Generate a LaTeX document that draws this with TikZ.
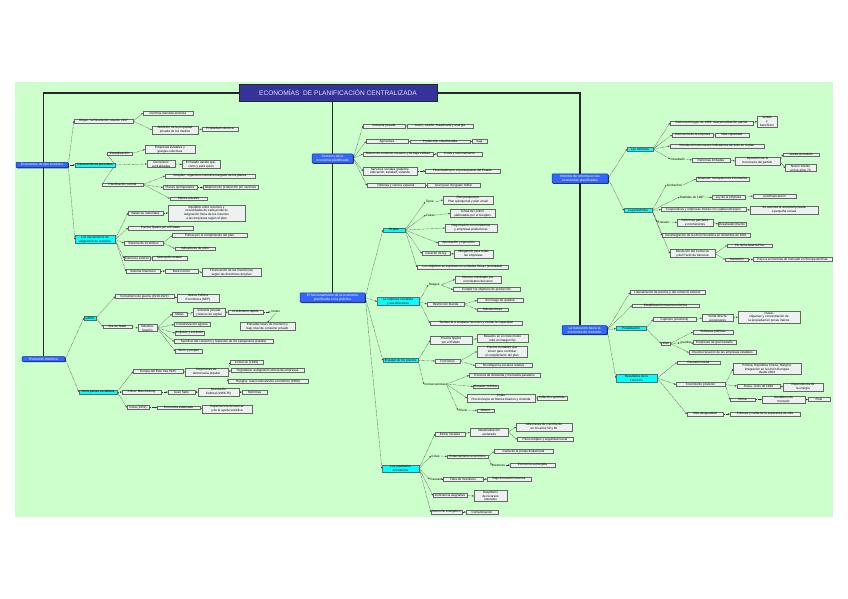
\documentclass[tikz,border=0pt]{standalone}
\usepackage{fontspec}
\setmainfont{Liberation Sans}
\usetikzlibrary{arrows.meta,shadows}
\pgfdeclarelayer{bgA}\pgfdeclarelayer{bgB}\pgfsetlayers{bgA,bgB,main}
\definecolor{bggreen}{RGB}{204,255,204}
\definecolor{leafc}{RGB}{236,242,240}
\definecolor{cyanc}{RGB}{0,255,255}
\definecolor{bluec}{RGB}{51,102,255}
\definecolor{blueb}{RGB}{20,40,150}
\definecolor{titlec}{RGB}{51,51,153}
\definecolor{titlet}{RGB}{225,225,255}
\newcommand\tfnt{\fontsize{3.1}{3.8}\selectfont}
\newcommand\bfnt{\fontsize{3.4}{4.2}\selectfont}
\tikzset{
 leaf/.style={draw=black!60, line width=0.3pt, fill=leafc, inner xsep=0.8pt, inner ysep=0.6pt, align=center, font=\tfnt,
   drop shadow={shadow xshift=0.8pt, shadow yshift=-0.7pt, fill=black, opacity=0.85}},
 lbl/.style={inner sep=0.5pt, font=\tfnt, align=center},
 cyannode/.style={draw=black!60, line width=0.3pt, fill=cyanc, inner xsep=0.8pt, inner ysep=0.7pt, align=center, font=\tfnt,
   drop shadow={shadow xshift=0.6pt, shadow yshift=-0.6pt, fill=black, opacity=0.6}},
 bluenode/.style={draw=blueb, line width=0.5pt, fill=bluec, text=white, rounded corners=0.8pt, inner xsep=1pt, inner ysep=1pt, align=center, font=\bfnt,
   drop shadow={shadow xshift=0.8pt, shadow yshift=-0.8pt, fill=black, opacity=0.75}},
 titlenode/.style={draw=black!85, line width=1pt, fill=titlec, text=titlet, inner sep=2pt, font=\fontsize{6.6}{7}\selectfont},
 trunk/.style={draw=black!85, line width=1.2pt},
 conn/.style={draw=black!80, line width=0.45pt, dash pattern=on 0.5pt off 0.8pt, -{Stealth[length=1.8pt,width=1.5pt]}},
}
\newcommand\mleaf[5]{\node[leaf,minimum width=#4pt] (#1) at (#2,#3) {#5};}
\newcommand\mlab[4]{\node[lbl] (#1) at (#2,#3) {#4};}
\newcommand\mcyan[5]{\node[cyannode,minimum width=#4pt] (#1) at (#2,#3) {#5};}
\newcommand\mblue[5]{\node[bluenode,minimum width=#4pt] (#1) at (#2,#3) {#5};}
\begin{document}
\begin{tikzpicture}[x=1pt,y=-1pt]
\useasboundingbox (0,0) rectangle (848,599);
\begin{pgfonlayer}{bgA}
\fill[white] (0,0) rectangle (848,599);
\fill[bggreen] (15,82) rectangle (833,517);
\end{pgfonlayer}

\node[titlenode, minimum width=198pt, minimum height=17pt] (title) at (338,93) {ECONOMÍAS\ \ DE PLANIFICACIÓN CENTRALIZADA};

% ---------- left top
\mblue{L1}{42}{165}{52}{Economías de tipo soviético}
\mleaf{A1}{103.5}{121}{59}{Origen: la Revolución rusa de 1917}
\mleaf{A1a}{168}{113}{50}{Doctrina marxista-leninista}
\mleaf{A1b}{175}{130}{46}{Abolición de la propiedad\\privada de los medios}
\mleaf{A1c}{220}{129}{36}{Propiedad colectiva}
\mcyan{C1}{95}{165}{40}{Características generales}
\mleaf{C1a}{119.5}{153.5}{25}{Estatalización}
\mleaf{C1a1}{170}{149.5}{50}{Empresas estatales y\\granjas colectivas}
\mleaf{C1b}{161}{164}{28}{Decisiones\\centralizadas}
\mleaf{C1b1}{201}{164.5}{38}{El Estado decide qué,\\cómo y para quién}
\mleaf{C1c}{122.5}{184.5}{41}{Planificación central}
\mleaf{C1c1}{210}{176}{90}{Gosplan: organismo central encargado de los planes}
\mleaf{C1c2}{180}{187.5}{34}{Planes quinquenales}
\mleaf{C1c2a}{230.5}{187.5}{55}{Objetivos de producción por sectores}
\mleaf{C1c3}{188.5}{198.5}{37}{Planes anuales}
\mcyan{C2}{95}{239.5}{40}{Los mecanismos de\\asignación de recursos}
\mleaf{C2a}{145.5}{213}{35}{Balances materiales}
\mleaf{C2a1}{206.5}{213}{77}{Equilibrio entre recursos y\\necesidades de cada producto\\Asignación física de los insumos\\a las empresas según el plan}
\mleaf{C2b}{160.5}{228}{65}{Precios fijados por el Estado}
\mleaf{C2c}{143.5}{243}{39}{Sistema de incentivos}
\mleaf{C2c1}{209.5}{235.5}{75}{Primas por el cumplimiento del plan}
\mleaf{C2c2}{195}{248.5}{40}{Indicadores de éxito}
\mleaf{C2d}{137}{258}{26}{Comercio exterior}
\mleaf{C2d1}{169.5}{258}{35}{Monopolio estatal}
\mleaf{C2e}{143}{271}{34}{Sistema financiero}
\mleaf{C2e1}{181.5}{271}{33}{Banco único}
\mleaf{C2e2}{231.5}{272.5}{59}{Financiación de las inversiones\\según las directrices del plan}

% ---------- left bottom
\mblue{L2}{43.5}{359}{43}{Evolución histórica}
\mcyan{U}{90}{318}{12}{URSS}
\mleaf{U1}{144.5}{296.5}{59}{Comunismo de guerra (1918-1921)}
\mleaf{U1a}{198}{298}{42}{Nueva Política\\Económica (NEP)}
\mleaf{U2}{117.5}{326.5}{29}{Era de Stalin}
\mleaf{U2a}{147.5}{328}{19}{Industria-\\lización}
\mleaf{U2a1}{179.5}{314}{15}{Metas}
\mleaf{U2a1a}{209}{312.5}{32}{Industria pesada\\y bienes de capital}
\mleaf{U2a1b}{245.5}{312}{35}{Crecimiento rápido}
\mlab{U2a1c}{275.5}{312}{costes}
\mleaf{U2a1d}{267.5}{326.5}{55}{Elevadas tasas de inversión y\\bajo nivel de consumo privado}
\mleaf{U2b}{192}{324.5}{36}{Colectivización agraria}
\mleaf{U2c}{189.5}{333}{29}{Koljoses y sovjoses}
\mleaf{U2d}{223.5}{341.5}{99}{Sacrificio del consumo y represión de los campesinos (kulaks)}
\mleaf{U2e}{188.5}{351}{27}{Terror y purgas}
\mcyan{O}{98}{392}{38}{Otros países socialistas}
\mleaf{O1}{158}{371.5}{50}{Europa del Este tras 1945}
\mleaf{O1a}{206.5}{372}{43}{Regímenes de\\democracia popular}
\mleaf{O1a1}{246.5}{362.5}{33}{Comecon (1949)}
\mleaf{O1a2}{267.5}{370.5}{73}{Yugoslavia: autogestión obrera de empresas}
\mleaf{O1a3}{268}{381.5}{80}{Hungría: nuevo mecanismo económico (1968)}
\mleaf{O2}{141.5}{392}{39}{China: Mao Zedong}
\mleaf{O2a}{181.5}{392}{27}{Gran Salto}
\mleaf{O2a1}{218.5}{392}{41}{Revolución\\Cultural (1966-76)}
\mleaf{O2a2}{254.5}{392}{25}{Reformas}
\mleaf{O3}{138}{407.5}{22}{Cuba (1959)}
\mleaf{O3a}{178.5}{407.5}{43}{Economía estatizada}
\mleaf{O3a1}{227}{409}{50}{Dependencia del azúcar\\y de la ayuda soviética}

% ---------- centre top
\mblue{T}{332.5}{158.5}{41}{Sectores de la\\economía planificada}
\mleaf{T1}{384}{126}{42}{Industria pesada}
\mleaf{T1a}{440}{126}{66}{Acero, carbón, maquinaria y energía}
\mleaf{T2}{387}{141.5}{42}{Agricultura}
\mleaf{T2a}{440}{141.5}{60}{Producción colectivizada}
\mleaf{T2b}{479.5}{141.5}{15}{baja}
\mleaf{T3}{398}{154}{70}{Bienes de consumo escasos y de baja calidad}
\mleaf{T3a}{459.5}{154}{45}{Colas y racionamiento}
\mleaf{T4}{390}{171}{54}{Servicios sociales gratuitos:\\educación, sanidad, vivienda}
\mleaf{T4a}{462.5}{171}{75}{Financiados por el presupuesto del Estado}
\mleaf{T5}{396}{185.5}{58}{Defensa y carrera espacial}
\mleaf{T5a}{453.5}{185.5}{53}{Gran peso del gasto militar}

% ---------- centre main
\mblue{M}{332.5}{297.5}{65}{El funcionamiento de la economía\\planificada en la práctica}
\mcyan{K1}{394}{230}{22}{El plan}
\mlab{K1l1}{430}{202}{Tipos:}
\mleaf{K1a}{468}{200}{50}{Plan perspectivo\\Plan quinquenal y plan anual}
\mlab{K1l2}{431}{215}{Fases:}
\mleaf{K1b}{472.5}{213.5}{45}{Cifras de control\\elaboradas por el Gosplan}
\mleaf{K1c}{471}{228}{52}{Negociación con ministerios\\y empresas productoras}
\mleaf{K1d}{458.5}{243}{41}{Aprobación y ejecución}
\mleaf{K1e}{436}{253.5}{28}{Carácter de ley}
\mleaf{K1e1}{473.5}{254}{39}{Obligatorio para todas\\las empresas}
\mleaf{K1f}{462.5}{267}{91}{Los objetivos se expresan en unidades físicas (toneladas)}
\mcyan{K2}{398}{301.5}{42}{La empresa socialista\\y sus directores}
\mlab{K2l}{434.5}{285}{Rasgos:}
\mleaf{K2a}{478}{279.5}{46}{Director nombrado por\\el ministerio del ramo}
\mleaf{K2b}{486.5}{289.5}{67}{Cumplir los objetivos de producción}
\mleaf{K2c}{445.5}{304}{37}{Restricción blanda}
\mleaf{K2c1}{500}{300.5}{46}{Sin riesgo de quiebra}
\mleaf{K2c2}{492.5}{309.5}{31}{Subvenciones}
\mleaf{K2d}{476}{323}{92}{Tendencia a acaparar recursos y ocultar la capacidad}
\mcyan{K3}{400.5}{360.5}{35}{El papel de los precios}
\mleaf{K3a}{451}{340.5}{42}{Precios fijados\\por el Estado}
\mleaf{K3a1}{502.5}{338.5}{51}{Basados en el coste medio\\más un margen fijo}
\mleaf{K3b}{447.5}{361}{25}{Funciones}
\mleaf{K3b1}{502}{351.5}{50}{Precios contables que\\sirven para controlar\\el cumplimiento del plan}
\mleaf{K3b2}{503.5}{365.5}{57}{No reflejan la escasez relativa}
\mlab{K3l}{435}{384}{Consecuencias}
\mleaf{K3c1}{504.5}{375.5}{71}{Excesos de demanda y mercados paralelos}
\mleaf{K3c2}{485.5}{386.5}{25}{Escasez crónica}
\mleaf{K3c3}{501}{398}{68}{Colas\\Precios bajos en bienes básicos y vivienda}
\mleaf{K3c3a}{552}{398}{30}{Inflación reprimida}
\mlab{K3c4l}{463}{410}{Efecto}
\mleaf{K3c4}{485.5}{410.5}{17}{Ahorro}
\mcyan{K4}{400.5}{468.5}{37}{Los resultados\\del sistema}
\mleaf{K4a}{450}{434}{30}{Éxitos iniciales}
\mleaf{K4a1}{489}{432}{38}{Industrialización\\acelerada}
\mleaf{K4a1a}{544}{427}{56}{Altas tasas de crecimiento\\en los años 50 y 60}
\mleaf{K4a1b}{545}{439.5}{56}{Pleno empleo y seguridad social}
\mlab{K4l1}{436}{456}{Crisis:}
\mleaf{K4b}{467.5}{456.5}{41}{Estancamiento económico}
\mleaf{K4b1}{523.5}{451.5}{59}{Caída de la productividad total}
\mlab{K4b2l}{498.5}{465}{Brezhnev}
\mleaf{K4b2}{532.5}{465}{45}{Economía sumergida}
\mlab{K4l2}{436}{479}{Causas:}
\mleaf{K4c}{463}{479}{40}{Falta de incentivos}
\mleaf{K4c1}{509}{479}{44}{Baja innovación técnica}
\mleaf{K4d}{450}{495.5}{34}{Ineficiencia asignativa}
\mleaf{K4d1}{490.5}{496}{33}{Despilfarro\\de recursos\\naturales}
\mleaf{K4e}{446.5}{512}{31}{Derroche energético}
\mleaf{K4e1}{482}{512}{32}{Contaminación}

% ---------- right top
\mblue{R1}{580}{178.5}{56}{Intentos de reforma en las\\economías planificadas}
\mcyan{Q1}{640}{149}{26}{Las reformas}
\mleaf{Q1a}{711.5}{123}{83}{Reforma Kosygin de 1965: descentralización parcial}
\mleaf{Q1a1}{767}{121.5}{20}{Ventas\\y\\beneficios}
\mleaf{Q1b}{692.5}{135}{41}{Autonomía de la empresa}
\mleaf{Q1b1}{732}{135}{34}{Más capacidad}
\mleaf{Q1c}{717}{146}{94}{Introducción de nuevos indicadores de éxito en el plan}
\mlab{Q1l}{678}{159}{Resultado:}
\mleaf{Q1d}{711}{160}{38}{Reformas limitadas}
\mleaf{Q1d1}{757.5}{161}{45}{Oposición de la\\burocracia del partido}
\mleaf{Q1d1a}{801}{154.5}{36}{Vuelta al modelo}
\mleaf{Q1d1b}{800.5}{168}{31}{Nuevo intento\\en los años 70}
\mcyan{Q2}{638}{210.5}{28}{La perestroika}
\mlab{Q2l1}{674.5}{185}{Gorbachov}
\mleaf{Q2a}{722.5}{179}{53}{Glasnost: transparencia informativa}
\mlab{Q2l2}{692.5}{197}{Medidas de 1987:}
\mleaf{Q2b}{728.5}{197.5}{33}{Ley de la empresa}
\mleaf{Q2b1}{774.5}{196}{43}{Autofinanciación}
\mleaf{Q2c}{703.5}{209.5}{85}{Cooperativas y empresas mixtas con capital extranjero}
\mleaf{Q2c1}{784}{210}{68}{Se autoriza la actividad privada\\a pequeña escala}
\mlab{Q2l3}{664}{222}{Fracaso:}
\mleaf{Q2d}{695}{222.5}{36}{Reformas parciales\\e incoherentes}
\mleaf{Q2d1}{732}{224}{24}{Desabastecimiento}
\mleaf{Q2e}{706}{235.5}{88}{Desintegración de la Unión Soviética en diciembre de 1991}
\mleaf{Q2f}{692.5}{253.5}{45}{Disolución del Comecon\\y del Pacto de Varsovia}
\mleaf{Q2f1}{749.5}{245.5}{45}{Fin de la Guerra Fría}
\mleaf{Q2f2}{736.5}{259.5}{23}{Transición}
\mleaf{Q2f2a}{792.5}{259.5}{79}{Paso a economías de mercado en Europa del Este}

% ---------- right bottom
\mblue{R2}{584.5}{330}{45}{La transición hacia la\\economía de mercado}
\mleaf{R2a}{667.5}{292.5}{75}{Liberalización de precios y del comercio exterior}
\mleaf{R2b}{665.5}{305.5}{67}{Estabilización macroeconómica}
\mcyan{Q3}{631}{328.5}{30}{Privatización}
\mleaf{Q3a}{674.5}{319.5}{43}{Cupones (vouchers)}
\mleaf{Q3a1}{717.5}{318}{31}{Venta directa\\a inversores}
\mleaf{Q3a2}{769}{317}{62}{Rusia:\\oligarcas y concentración de\\la propiedad en pocas manos}
\mleaf{Q3b}{665.5}{343.5}{9}{Vías}
\mleaf{Q3b1}{713}{332}{40}{Subastas públicas}
\mlab{Q3b2l}{686}{343}{grandes}
\mleaf{Q3b2}{714.5}{342.5}{43}{Empresas de gran tamaño}
\mleaf{Q3b3}{722.5}{352.5}{67}{Reestructuración de las empresas estatales}
\mcyan{Q4}{636.5}{378}{41}{Resultados de la\\transición}
\mleaf{Q4a}{698.5}{362.5}{43}{Recesión inicial}
\mleaf{Q4b}{700.5}{384.5}{49}{Crecimiento posterior}
\mleaf{Q4b1}{767}{369}{68}{Polonia, República Checa, Hungría:\\integración en la Unión Europea\\desde 2004}
\mleaf{Q4b2}{758.5}{386}{43}{Rusia: crisis de 1998}
\mleaf{Q4b2a}{803}{387}{40}{Dependencia de\\la energía}
\mleaf{Q4b3}{742.5}{399.5}{25}{China}
\mleaf{Q4b3a}{783.5}{399.5}{43}{Socialismo de\\mercado}
\mleaf{Q4b3b}{819}{399.5}{22}{Éxito}
\mleaf{Q4c}{705}{414}{36}{Más desigualdad}
\mleaf{Q4c1}{765}{414}{70}{Pobreza y caída de la esperanza de vida}

\begin{pgfonlayer}{bgB}
\draw[trunk] (title.west) -| (L2.north);
\draw[trunk] (title.east) -| (R1.north);
\draw[trunk] (R1.south) -- (R1.south |- R2.north);
\draw[trunk] (T.north |- title.south) -- (T.north);
\draw[trunk] (T.south) -- (M.north);
\foreach \p/\c in {L1/A1,L1/C1,L1/C2,A1/A1a,A1/A1b,A1b/A1c,C1/C1a,C1/C1b,C1/C1c,C1a/C1a1,C1b/C1b1,
  C1c/C1c1,C1c/C1c2,C1c2/C1c2a,C1c/C1c3,C2/C2a,C2/C2b,C2/C2c,C2/C2d,C2/C2e,C2a/C2a1,C2c/C2c1,C2c/C2c2,
  C2d/C2d1,C2e/C2e1,C2e1/C2e2,
  L2/U,L2/O,U/U1,U/U2,U1/U1a,U2/U2a,U2a/U2a1,U2a/U2b,U2a/U2c,U2a/U2d,U2a/U2e,U2a1/U2a1a,U2a1a/U2a1b,
  U2a1b/U2a1c,O/O1,O/O2,O/O3,O1/O1a,O1a/O1a1,O1a/O1a2,O1a/O1a3,O2/O2a,O2a/O2a1,O2a1/O2a2,O3/O3a,O3a/O3a1,
  T/T1,T/T2,T/T3,T/T4,T/T5,T1/T1a,T2/T2a,T2a/T2b,T3/T3a,T4/T4a,T5/T5a,
  M/K1,M/K2,M/K3,M/K4,K1/K1l1,K1l1/K1a,K1/K1l2,K1l2/K1b,K1/K1c,K1/K1d,K1/K1e,K1/K1f,K1e/K1e1,
  K2/K2l,K2l/K2a,K2l/K2b,K2/K2c,K2c/K2c1,K2c/K2c2,K2/K2d,
  K3/K3a,K3a/K3a1,K3/K3b,K3b/K3b1,K3b/K3b2,K3/K3l,K3l/K3c1,K3l/K3c2,K3l/K3c3,K3l/K3c4l,K3c3/K3c3a,K3c4l/K3c4,
  K4/K4a,K4a/K4a1,K4a1/K4a1a,K4a1/K4a1b,K4/K4l1,K4l1/K4b,K4b/K4b1,K4b/K4b2l,K4b2l/K4b2,K4/K4l2,K4l2/K4c,
  K4c/K4c1,K4/K4d,K4d/K4d1,K4/K4e,K4e/K4e1,
  R1/Q1,R1/Q2,Q1/Q1a,Q1a/Q1a1,Q1/Q1b,Q1b/Q1b1,Q1/Q1c,Q1/Q1l,Q1l/Q1d,Q1d/Q1d1,Q1d1/Q1d1a,Q1d1/Q1d1b,
  Q2/Q2l1,Q2l1/Q2a,Q2/Q2l2,Q2l2/Q2b,Q2b/Q2b1,Q2/Q2c,Q2c/Q2c1,Q2/Q2l3,Q2l3/Q2d,Q2d/Q2d1,Q2/Q2e,Q2/Q2f,
  Q2f/Q2f1,Q2f/Q2f2,Q2f2/Q2f2a,
  R2/R2a,R2/R2b,R2/Q3,R2/Q4,Q3/Q3a,Q3a/Q3a1,Q3a1/Q3a2,Q3/Q3b,Q3b/Q3b1,Q3b/Q3b2l,Q3b2l/Q3b2,Q3b/Q3b3,
  Q4/Q4a,Q4/Q4b,Q4/Q4c,Q4b/Q4b1,Q4b/Q4b2,Q4b/Q4b3,Q4b2/Q4b2a,Q4b3/Q4b3a,Q4b3a/Q4b3b,Q4c/Q4c1}
  {\draw[conn] (\p.east) -- (\c.west);}
\draw[conn] (U2a1c.south) -- (U2a1d.north);
\end{pgfonlayer}
\end{tikzpicture}
\end{document}
